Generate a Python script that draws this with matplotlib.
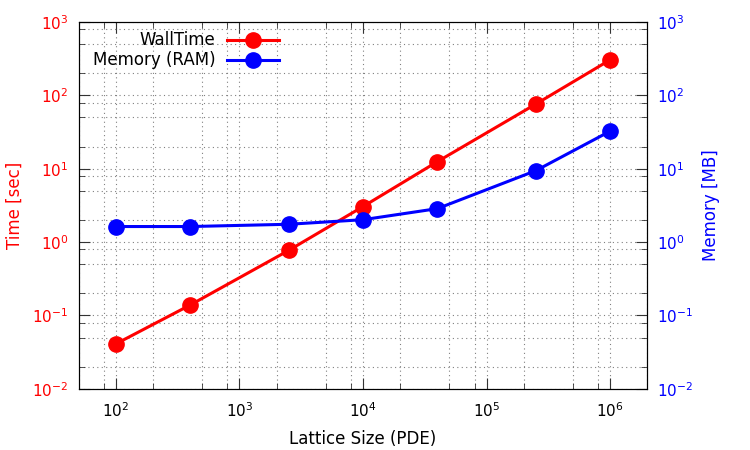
import numpy as np
import matplotlib
matplotlib.use('Agg')
import matplotlib.pyplot as plt
from matplotlib.ticker import LogLocator, NullFormatter

# lattice sizes and measurements
lattice = [1e2, 4e2, 2.5e3, 1e4, 4e4, 2.5e5, 1e6]
walltime = [0.041, 0.139, 0.77, 3.05, 12.5, 76, 305]   # sec
memory = [1.63, 1.63, 1.75, 2.02, 2.86, 9.4, 32.5]     # MB

plt.rcParams['font.family'] = 'DejaVu Sans'
plt.rcParams['font.size'] = 11

fig = plt.figure(figsize=(7.5, 4.5), dpi=100)
ax1 = fig.add_axes([0.105, 0.136, 0.758, 0.815])
ax2 = ax1.twinx()

for ax in (ax1, ax2):
    ax.set_xscale('log')
    ax.set_yscale('log')
    ax.set_ylim(1e-2, 1e3)
    ax.yaxis.set_major_locator(LogLocator(base=10, numticks=10))
    ax.yaxis.set_minor_locator(LogLocator(base=10, subs=[2, 5, 8], numticks=10))
    ax.yaxis.set_minor_formatter(NullFormatter())
ax1.set_xlim(50, 2e6)
ax1.xaxis.set_major_locator(LogLocator(base=10, numticks=10))
ax1.xaxis.set_minor_locator(LogLocator(base=10, subs=[2, 5, 8], numticks=10))
ax1.xaxis.set_minor_formatter(NullFormatter())

ax1.grid(True, which='both', ls=(0, (1, 3)), color='0.5', lw=0.8)

l1, = ax1.plot(lattice, walltime, '-o', color='#ff0000', lw=2.2, ms=11, label='WallTime')
l2, = ax2.plot(lattice, memory, '-o', color='#0000ff', lw=2.2, ms=11, label='Memory (RAM)')

ax1.tick_params(which='both', direction='in', top=True, right=False, color='0.2')
ax1.tick_params(which='major', length=8, pad=7.5)
ax1.tick_params(which='minor', length=4)
ax1.tick_params(axis='y', labelcolor='#ff0000')
ax1.tick_params(axis='x', pad=9)
ax2.tick_params(which='both', direction='in', color='0.2')
ax2.tick_params(which='major', length=8, pad=7)
ax2.tick_params(which='minor', length=4)
ax2.tick_params(axis='y', labelcolor='#0000ff')

ax1.set_xlabel('Lattice Size (PDE)', fontsize=12, labelpad=7)
ax1.set_ylabel('Time [sec]', color='#ff0000', fontsize=12, labelpad=6)
ax2.set_ylabel('Memory [MB]', color='#0000ff', fontsize=12, labelpad=6)

ax2.legend(handles=[l1, l2], loc='upper right', bbox_to_anchor=(0.365, 0.995), markerfirst=False,
           frameon=False, handlelength=3.1, handletextpad=0.7, labelspacing=0.12,
           borderaxespad=0.25, borderpad=0.2, fontsize=12)

fig.savefig('out.png', dpi=100)
